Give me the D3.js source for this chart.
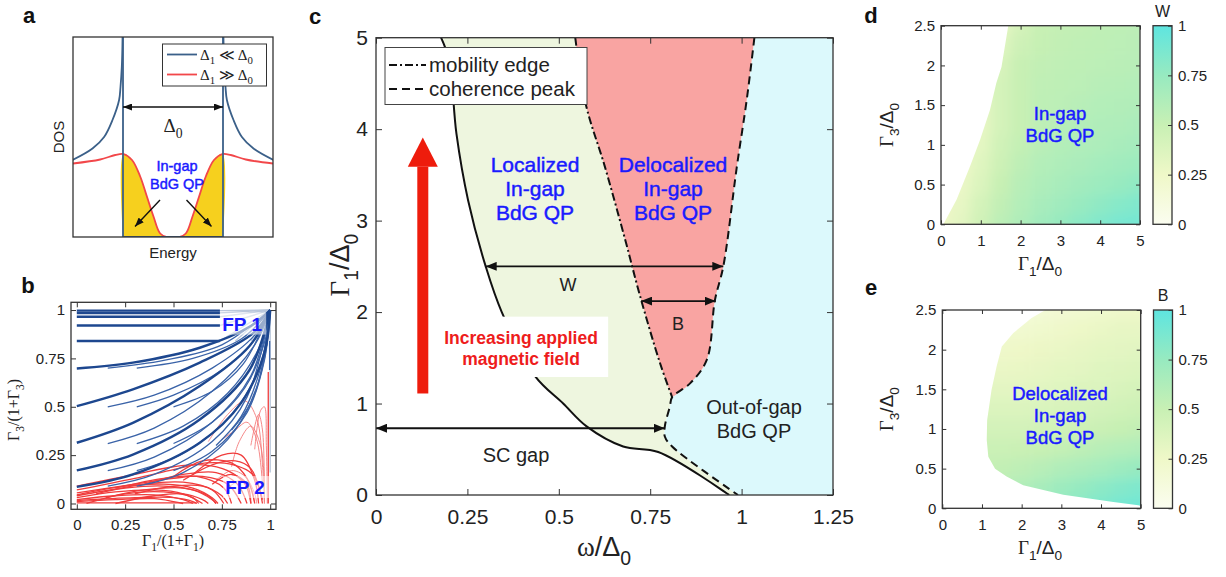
<!DOCTYPE html>
<html><head><meta charset="utf-8">
<script src="https://cdn.jsdelivr.net/npm/d3@7"></script>
<style>
body{margin:0;background:#fff}
text{font-family:"Liberation Sans",Arial,sans-serif;fill:#222}
</style>
</head><body>
<svg id="fig" width="1226" height="577"></svg>
<script>
// ---------- panel a : DOS sketch (energy, DOS) ----------
const dosBlueLeft = [[-2.01,1.54],[-1.61,1.77],[-1.378,2.0],[-1.21,2.34],[-1.078,2.74],[-1.05,3.0],[-1.024,3.4],[-1.012,3.8],[-1.004,4.4]];
const dosBlueGap = [[-1,4.4],[-1,0],[1,0],[1,4.4]];
const dosBlueRight = [[1.004,4.4],[1.012,3.8],[1.024,3.4],[1.05,3.0],[1.078,2.74],[1.21,2.34],[1.378,2.0],[1.61,1.77],[2.01,1.54]];
const dosRed = [[-2,1.47],[-1.456,1.55],[-1.156,1.64],[-0.99,1.66],[-0.82,1.54],[-0.656,1.21],[-0.522,0.81],[-0.39,0.41],[-0.256,0.07],[-0.12,0],
                [0.12,0],[0.256,0.07],[0.39,0.41],[0.522,0.81],[0.656,1.21],[0.82,1.54],[0.99,1.66],[1.156,1.64],[1.456,1.55],[2,1.47]];

// ---------- panel b : flow lines (Γ1/(1+Γ1), Γ3/(1+Γ3)) ----------
const flowTicks = [0, 0.25, 0.5, 0.75, 1];
const flowBlueMain = [
  [[0,0.997],[0.74,0.997]],
  [[0,0.985],[0.74,0.985]],
  [[0,0.965],[0.74,0.965]],
  [[0,0.92],[0.74,0.92]],
  [[0,0.84],[0.74,0.84]],
  [[0,0.698],[0.29,0.728],[0.636,0.805],[0.9,0.917],[1,1]],
  [[0,0.503],[0.29,0.59],[0.636,0.728],[0.915,0.883],[1,1]],
  [[0,0.314],[0.29,0.417],[0.636,0.607],[0.893,0.814],[1,1]],
  [[0,0.171],[0.29,0.253],[0.636,0.434],[0.893,0.69],[1,1]],
  [[0,0.086],[0.29,0.15],[0.636,0.314],[0.85,0.52],[0.97,0.78],[1,1]]
];
const flowBlueSide = [
  [[0.16,0.70],[0.45,0.74],[0.75,0.82],[1,1]],
  [[0.31,0.70],[0.6,0.75],[0.85,0.85],[1,1]],
  [[0.16,0.50],[0.4,0.56],[0.7,0.70],[0.92,0.87],[1,1]],
  [[0.31,0.50],[0.5,0.56],[0.75,0.69],[0.93,0.86],[1,1]],
  [[0.5,0.50],[0.7,0.58],[0.86,0.72],[1,1]],
  [[0.16,0.31],[0.4,0.39],[0.7,0.58],[0.92,0.82],[1,1]],
  [[0.31,0.31],[0.55,0.40],[0.78,0.57],[0.94,0.80],[1,1]],
  [[0.5,0.31],[0.7,0.42],[0.87,0.60],[0.97,0.83],[1,1]],
  [[0.16,0.17],[0.4,0.24],[0.7,0.42],[0.9,0.66],[1,1]],
  [[0.31,0.17],[0.55,0.26],[0.8,0.46],[0.95,0.72],[1,1]],
  [[0.5,0.17],[0.7,0.27],[0.88,0.47],[0.97,0.74],[1,1]],
  [[0.16,0.09],[0.4,0.15],[0.7,0.32],[0.88,0.55],[1,1]],
  [[0.31,0.09],[0.55,0.16],[0.78,0.33],[0.93,0.6],[1,1]],
  [[0.72,0.3],[0.85,0.45],[0.95,0.7],[1,1]],
  [[0.8,0.38],[0.9,0.52],[0.97,0.75],[1,1]],
  [[0.997,0.84],[0.997,0.69]]
];
const flowFan = [
  [[0.74,0.997],[1,1]],[[0.74,0.985],[1,1]],[[0.74,0.965],[1,1]],[[0.74,0.92],[1,1]],[[0.74,0.84],[1,1]],
  [[0.82,0.84],[1,1]],[[0.9,0.84],[1,1]],[[0.96,0.84],[1,1]],[[0.985,0.84],[0.985,1]],[[1,0.16],[1,1]]
];
const flowRedFaint = [
  [[0.68,0.32],[0.78,0.46],[0.87,0.53],[0.93,0.44],[0.96,0.2],[0.97,0]],
  [[0.75,0.33],[0.82,0.38],[0.88,0.42],[0.93,0.33],[0.96,0.1]],
  [[0.8,0.19],[0.84,0.32],[0.9,0.4],[0.95,0.3],[0.97,0.1]],
  [[0.92,0.28],[0.95,0.48],[0.97,0.5],[0.98,0.3],[0.985,0]],
  [[0.9,0.3],[0.94,0.46],[0.96,0.38],[0.97,0]],
  [[0.72,0.12],[0.8,0.17],[0.87,0.14],[0.92,0.05],[0.93,0]],
  [[0.78,0.08],[0.85,0.12],[0.9,0.08],[0.92,0]]
];
const flowRed = [
  [[0.55,0.12],[0.7,0.2],[0.82,0.22],[0.9,0.18],[0.95,0.05],[0.96,0]],
  [[0.5,0.14],[0.65,0.22],[0.8,0.21],[0.88,0.13],[0.92,0]],
  [[0,0.07],[0.3,0.13],[0.5,0.175],[0.67,0.21],[0.81,0.2],[0.91,0.15],[0.96,0.02]],
  [[0,0.09],[0.3,0.15],[0.5,0.19],[0.65,0.2],[0.78,0.17],[0.87,0.1],[0.9,0]],
  [[0,0.055],[0.3,0.1],[0.5,0.13],[0.65,0.14],[0.78,0.1],[0.85,0]],
  [[0,0.045],[0.25,0.09],[0.45,0.1],[0.6,0.08],[0.7,0.03],[0.73,0]],
  [[0,0.04],[0.25,0.08],[0.45,0.09],[0.6,0.07],[0.7,0.02],[0.72,0]],
  [[0,0.03],[0.2,0.06],[0.4,0.07],[0.55,0.05],[0.65,0]],
  [[0,0.02],[0.2,0.04],[0.4,0.045],[0.55,0.02],[0.6,0]],
  [[0,0.015],[0.3,0.03],[0.5,0.03],[0.6,0.01],[0.62,0]],
  [[0,0.01],[0.2,0.02],[0.4,0.025],[0.5,0.01],[0.55,0]],
  [[0,0.003],[0.62,0.003]],
  [[0.05,0],[0.25,0.05],[0.45,0.06],[0.6,0.03],[0.63,0]],
  [[0.2,0],[0.4,0.04],[0.55,0.05],[0.65,0.02],[0.68,0]],
  [[0.1,0.05],[0.35,0.1],[0.55,0.11],[0.7,0.07],[0.76,0]],
  [[0.2,0.08],[0.45,0.13],[0.62,0.14],[0.76,0.08],[0.8,0]],
  [[0.15,0.03],[0.35,0.07],[0.55,0.08],[0.68,0.04],[0.72,0]],
  [[0.3,0.05],[0.5,0.09],[0.65,0.09],[0.75,0.04],[0.78,0]],
  [[0.35,0.1],[0.55,0.15],[0.72,0.16],[0.83,0.1],[0.88,0]],
  [[0.6,0.15],[0.75,0.25],[0.85,0.25],[0.92,0.12],[0.94,0]],
  [[0.7,0.1],[0.8,0.15],[0.88,0.1],[0.9,0]],
  [[0.99,0.68],[0.99,0]]
];

// ---------- panel c : phase diagram (ω/Δ0, Γ1/Δ0) ----------
const omegaTicks = [0, 0.25, 0.5, 0.75, 1, 1.25];
const gammaTicks = [0, 1, 2, 3, 4, 5];
const gapEdge = [[0.178,5],[0.2,4.75],[0.22,3.95],[0.252,3.22],[0.30,2.5],[0.344,2.0],[0.435,1.3],[0.512,1.0],[0.576,0.75],[0.676,0.53],[0.772,0.47],[0.966,0]];
const mobilityEdge = [[0.545,5],[0.574,4.27],[0.626,3.59],[0.681,2.8],[0.722,2.18],[0.777,1.44],[0.81,1.07]];
const coherencePeak = [[1.035,5],[1.014,4.32],[0.987,3.59],[0.95,2.5],[0.927,2.13],[0.905,1.48],[0.859,1.22],[0.81,1.07],[0.804,0.97],[0.79,0.75],[0.79,0.64],[0.81,0.53],[0.99,0]];
const widthArrows = [
  {label:"W", g:2.5, w0:0.30, w1:0.95},
  {label:"B", g:2.12, w0:0.725, w1:0.929},
  {label:"SC gap", g:0.73, w0:0.0, w1:0.79}
];
const fieldArrow = {w:0.128, g0:1.11, g1:3.91};

// ---------- panels d, e : W and B maps (Γ1/Δ0 columns, Γ3/Δ0 rows) ----------
const g1Cols = [0,0.5,1,1.5,2,2.5,3,3.5,4,4.5,5];
const g3Rows = [2.5,2.25,2,1.75,1.5,1.25,1,0.75,0.5,0.25,0];
const mapW = [
  [0.28,0.28,0.28,0.30,0.42,0.50,0.52,0.53,0.54,0.55,0.56],
  [0.32,0.32,0.32,0.35,0.46,0.51,0.53,0.54,0.55,0.56,0.57],
  [0.36,0.36,0.36,0.40,0.50,0.53,0.54,0.55,0.56,0.57,0.58],
  [0.36,0.36,0.36,0.42,0.50,0.54,0.55,0.56,0.58,0.59,0.60],
  [0.30,0.30,0.30,0.42,0.50,0.55,0.56,0.58,0.60,0.61,0.62],
  [0.28,0.28,0.30,0.42,0.50,0.55,0.58,0.60,0.62,0.63,0.65],
  [0.25,0.25,0.32,0.45,0.52,0.57,0.60,0.62,0.64,0.66,0.68],
  [0.24,0.25,0.35,0.47,0.55,0.60,0.63,0.65,0.68,0.70,0.72],
  [0.22,0.28,0.38,0.50,0.58,0.63,0.66,0.69,0.72,0.75,0.78],
  [0.25,0.30,0.42,0.53,0.60,0.66,0.70,0.74,0.78,0.82,0.85],
  [0.25,0.33,0.45,0.56,0.63,0.70,0.75,0.80,0.84,0.88,0.90]
];
const mapB = [
  [0.15,0.15,0.15,0.15,0.15,0.16,0.18,0.20,0.22,0.24,0.25],
  [0.20,0.20,0.20,0.20,0.20,0.22,0.24,0.26,0.28,0.30,0.30],
  [0.24,0.24,0.24,0.24,0.25,0.27,0.28,0.30,0.32,0.33,0.34],
  [0.28,0.28,0.28,0.28,0.29,0.30,0.32,0.33,0.35,0.36,0.37],
  [0.33,0.33,0.33,0.33,0.33,0.34,0.35,0.37,0.38,0.40,0.42],
  [0.38,0.38,0.38,0.38,0.38,0.39,0.40,0.41,0.43,0.45,0.47],
  [0.43,0.43,0.43,0.43,0.43,0.44,0.45,0.47,0.49,0.51,0.53],
  [0.48,0.48,0.48,0.48,0.49,0.50,0.52,0.55,0.58,0.60,0.62],
  [0.52,0.52,0.52,0.53,0.55,0.58,0.62,0.65,0.68,0.72,0.75],
  [0.56,0.56,0.56,0.58,0.62,0.67,0.72,0.76,0.80,0.83,0.86],
  [0.60,0.60,0.60,0.62,0.66,0.72,0.78,0.82,0.86,0.90,0.92]
];
const regionW = [[0.06,0],[0.39,0.31],[0.73,0.73],[0.98,1.06],[1.23,1.44],[1.39,1.78],[1.52,1.98],[1.69,2.5],[5,2.5],[5,0]];
const regionB = [[2.25,2.40],[1.79,2.21],[1.50,2.04],[1.37,1.79],[1.24,1.49],[1.13,1.11],[1.12,0.86],[1.16,0.65],[1.33,0.50],[1.62,0.40],[2.04,0.29],[3.05,0.17],[4.31,0.08],[4.94,0.04],[5,0.03],[5,2.5],[2.6,2.5]];
const mapXTicks = [0,1,2,3,4,5];
const mapYTicks = [0,0.5,1,1.5,2,2.5];
const barTicks = [0,0.25,0.5,0.75,1];

const SERIF = "Liberation Serif, Times New Roman, serif";
const BLUE = "#1a1aff";
const svg = d3.select("#fig");
const defs = svg.append("defs");

function marker(id, w, h) {
  defs.append("marker").attr("id", id)
      .attr("viewBox", `0 0 ${w} ${h}`)
      .attr("refX", w).attr("refY", h / 2)
      .attr("markerWidth", w).attr("markerHeight", h)
      .attr("markerUnits", "userSpaceOnUse")
      .attr("orient", "auto-start-reverse")
    .append("path").attr("d", `M0,0L${w},${h / 2}L0,${h}Z`).attr("fill", "#111");
}
marker("arrC", 11, 9);
marker("arrA", 9, 7);

defs.append("filter").attr("id", "soft").attr("x", "-5%").attr("y", "-5%").attr("width", "110%").attr("height", "110%")
  .append("feGaussianBlur").attr("stdDeviation", 6);

// text with Γ/Δ symbols and subscripts: parts = [[text, {serif, sub}]]
function rich(t, parts, size) {
  let off = 0;
  parts.forEach(([s, o]) => {
    o = o || {};
    const want = o.sub ? size * 0.32 : 0;
    const ts = t.append("tspan").text(s).attr("dy", want - off);
    off = want;
    if (o.serif) ts.attr("font-family", SERIF);
    if (o.sub) ts.attr("font-size", size * 0.72);
  });
  return t;
}

function blueText(g, x, y, s, size) {
  return g.append("text").attr("x", x).attr("y", y).attr("text-anchor", "middle").attr("font-size", size)
    .style("fill", BLUE).attr("stroke", BLUE).attr("stroke-width", 0.45).text(s);
}

function boxAxes(g, x, y, o) {
  const tl = o.tick || 5;
  const fmt = d => String(d);
  const [x0, x1] = x.range(), [y0, y1] = y.range();
  const bx = g.append("g").attr("transform", `translate(0,${y0})`)
    .call(d3.axisBottom(x).tickValues(o.xt).tickSize(-tl).tickSizeOuter(0).tickPadding(o.xPad).tickFormat(fmt));
  const tx = g.append("g").attr("transform", `translate(0,${y1})`)
    .call(d3.axisTop(x).tickValues(o.xt).tickSize(-tl).tickSizeOuter(0).tickFormat(""));
  const ly = g.append("g").attr("transform", `translate(${x0},0)`)
    .call(d3.axisLeft(y).tickValues(o.yt).tickSize(-tl).tickSizeOuter(0).tickPadding(o.yPad).tickFormat(fmt));
  const ry = g.append("g").attr("transform", `translate(${x1},0)`)
    .call(d3.axisRight(y).tickValues(o.yt).tickSize(-tl).tickSizeOuter(0).tickFormat(""));
  [bx, tx, ly, ry].forEach(a => {
    a.select(".domain").remove();
    a.selectAll("line").attr("stroke", "#333");
    a.selectAll("text").attr("font-size", o.font).attr("fill", "#222")
      .attr("font-family", "Liberation Sans, Arial, sans-serif");
  });
  g.append("rect").attr("x", x0).attr("y", y1).attr("width", x1 - x0).attr("height", y0 - y1)
    .attr("fill", "none").attr("stroke", "#333").attr("stroke-width", 1.3);
}

function panelLetter(ch, x, y) {
  svg.append("text").attr("x", x).attr("y", y).attr("font-size", 22).attr("font-weight", "bold")
    .attr("text-anchor", "middle").style("fill", "#111").text(ch);
}

function clipRect(id, x, y) {
  const [x0, x1] = x.range(), [y0, y1] = y.range();
  defs.append("clipPath").attr("id", id).append("rect")
    .attr("x", x0).attr("y", y1).attr("width", x1 - x0).attr("height", y0 - y1);
}

// ================= panel a =================
{
  const x = d3.scaleLinear([-2, 2], [73, 273]);
  const y = d3.scaleLinear([0, 4], [237, 37]);
  const g = svg.append("g");
  clipRect("clipA", x, y);
  const pg = g.append("g").attr("clip-path", "url(#clipA)");
  const line = d3.line().x(d => x(d[0])).y(d => y(d[1])).curve(d3.curveCatmullRom);
  const inGap = dosRed.filter(d => Math.abs(d[0]) <= 1);
  pg.append("path").datum([[-1, 0], ...inGap, [1, 0]])
    .attr("d", d3.area().x(d => x(d[0])).y0(y(0)).y1(d => y(d[1])).curve(d3.curveCatmullRom))
    .attr("fill", "#f6d01e");
  pg.append("path").datum(dosRed).attr("d", line).attr("fill", "none").attr("stroke", "#f2474a").attr("stroke-width", 1.8);
  [dosBlueLeft, dosBlueRight].forEach(c => pg.append("path").datum(c).attr("d", line)
    .attr("fill", "none").attr("stroke", "#3b6089").attr("stroke-width", 1.8));
  pg.append("path").datum(dosBlueGap).attr("d", d3.line().x(d => x(d[0])).y(d => y(d[1])))
    .attr("fill", "none").attr("stroke", "#3b6089").attr("stroke-width", 1.8);

  // gap arrow
  g.append("line").attr("x1", x(-1)).attr("x2", x(1)).attr("y1", y(2.6)).attr("y2", y(2.6))
    .attr("stroke", "#111").attr("stroke-width", 1.6)
    .attr("marker-start", "url(#arrA)").attr("marker-end", "url(#arrA)");
  rich(g.append("text").attr("x", x(0)).attr("y", 132).attr("text-anchor", "middle").attr("font-size", 19),
    [["Δ", {serif: true}], ["0", {serif: true, sub: true}]], 19);

  blueText(g, 177, 171, "In-gap", 14.5);
  blueText(g, 177, 189, "BdG QP", 14.5);
  [[[-0.26, 0.74], [-0.76, 0.21]], [[0.27, 0.74], [0.77, 0.21]]].forEach(p =>
    g.append("line").attr("x1", x(p[0][0])).attr("y1", y(p[0][1])).attr("x2", x(p[1][0])).attr("y2", y(p[1][1]))
      .attr("stroke", "#111").attr("stroke-width", 1.4).attr("marker-end", "url(#arrA)"));

  // legend
  g.append("rect").attr("x", 162.5).attr("y", 44).attr("width", 104).attr("height", 42)
    .attr("fill", "#fff").attr("stroke", "#333").attr("stroke-width", 1);
  [["#3b6089", 54.5], ["#f2474a", 74.5]].forEach(([c, yy], i) => {
    g.append("line").attr("x1", 167).attr("x2", 197).attr("y1", yy).attr("y2", yy).attr("stroke", c).attr("stroke-width", 1.8);
    const t = g.append("text").attr("x", 200).attr("y", yy + 5).attr("font-size", 15).attr("font-family", SERIF);
    const rel = i === 0 ? " ≪ " : " ≫ ";
    rich(t, [["Δ", {serif: true}], ["1", {serif: true, sub: true}], [rel, {serif: true}], ["Δ", {serif: true}], ["0", {serif: true, sub: true}]], 15);
  });

  g.append("rect").attr("x", 73).attr("y", 37).attr("width", 200).attr("height", 200)
    .attr("fill", "none").attr("stroke", "#333").attr("stroke-width", 1.3);
  g.append("text").attr("x", 173).attr("y", 258).attr("text-anchor", "middle").attr("font-size", 15).text("Energy");
  g.append("text").attr("transform", "translate(64,137) rotate(-90)").attr("text-anchor", "middle").attr("font-size", 15).text("DOS");
  panelLetter("a", 29, 23);
}

// ================= panel b =================
{
  const x = d3.scaleLinear([-0.03, 1.03], [71, 276]);
  const y = d3.scaleLinear([-0.03, 1.04], [509.3, 302.3]);
  const g = svg.append("g");
  clipRect("clipB", x, y);
  const pg = g.append("g").attr("clip-path", "url(#clipB)");
  const line = d3.line().x(d => x(d[0])).y(d => y(d[1])).curve(d3.curveCatmullRom);
  pg.selectAll(".redf").data(flowRedFaint).join("path").attr("d", line)
    .attr("fill", "none").attr("stroke", "#f47a7a").attr("stroke-width", 0.9);
  pg.selectAll(".red").data(flowRed).join("path").attr("d", line)
    .attr("fill", "none").attr("stroke", "#f03c3c").attr("stroke-width", 1.3);
  pg.selectAll(".fan").data(flowFan).join("path").attr("d", line)
    .attr("fill", "none").attr("stroke", "#b9c7db").attr("stroke-width", 1.4);
  pg.selectAll(".side").data(flowBlueSide).join("path").attr("d", line)
    .attr("fill", "none").attr("stroke", "#3a63a8").attr("stroke-width", 1.3);
  pg.selectAll(".main").data(flowBlueMain).join("path").attr("d", line)
    .attr("fill", "none").attr("stroke", "#1d478f").attr("stroke-width", 2.4);

  boxAxes(g, x, y, {xt: flowTicks, yt: flowTicks, font: 15, xPad: 10, yPad: 6});

  [["FP 1", 0.855, 0.93], ["FP 2", 0.87, 0.085]].forEach(([s, cx, cy]) => {
    g.append("rect").attr("x", x(cx) - 22).attr("y", y(cy) - 11).attr("width", 46).attr("height", 22)
      .attr("fill", "#fff").attr("opacity", 0.55);
    g.append("text").attr("x", x(cx)).attr("y", y(cy) + 7).attr("text-anchor", "middle")
      .attr("font-size", 19).attr("font-weight", "bold").style("fill", BLUE).text(s);
  });

  rich(g.append("text").attr("x", 173).attr("y", 546).attr("text-anchor", "middle").attr("font-size", 16).attr("font-family", SERIF),
    [["Γ", {serif: true}], ["1", {serif: true, sub: true}], ["/(1+Γ", {serif: true}], ["1", {serif: true, sub: true}], [")", {serif: true}]], 16);
  rich(g.append("text").attr("transform", "translate(19,410) rotate(-90)").attr("text-anchor", "middle").attr("font-size", 16).attr("font-family", SERIF),
    [["Γ", {serif: true}], ["3", {serif: true, sub: true}], ["/(1+Γ", {serif: true}], ["3", {serif: true, sub: true}], [")", {serif: true}]], 16);
  panelLetter("b", 28, 293);
}

// ================= panel c =================
{
  const x = d3.scaleLinear([0, 1.25], [376, 833]);
  const y = d3.scaleLinear([0, 5], [495, 37.7]);
  const g = svg.append("g");
  clipRect("clipC", x, y);
  const pg = g.append("g").attr("clip-path", "url(#clipC)");
  const curve = d3.line().x(d => x(d[0])).y(d => y(d[1])).curve(d3.curveCatmullRom);
  const lin = d3.line().x(d => x(d[0])).y(d => y(d[1]));
  // closed region from a chain of [points, smooth] pieces
  const region = (...pieces) => pieces.map(([p, s], i) => {
    const d = (s ? curve : lin)(p);
    return i ? d.replace(/^M/, "L") : d;
  }).join("") + "Z";
  const rev = a => a.slice().reverse();
  const tip = coherencePeak.findIndex(d => d[1] === 1.07);

  pg.append("path").attr("d", region([coherencePeak, true], [[[1.3, 0], [1.3, 5.1], [1.04, 5.1]], false])).attr("fill", "#dcf9fc");
  pg.append("path").attr("d", region([[[0.17, 5.1]], false], [gapEdge, true], [rev(coherencePeak), true], [[[1.04, 5.1]], false])).attr("fill", "#eef6df");
  pg.append("path").attr("d", region([[[0.54, 5.1]], false], [mobilityEdge, true], [rev(coherencePeak.slice(0, tip + 1)), true], [[[1.04, 5.1]], false])).attr("fill", "#f9a4a2");

  pg.append("path").datum(gapEdge).attr("d", curve).attr("fill", "none").attr("stroke", "#111").attr("stroke-width", 2);
  pg.append("path").datum(mobilityEdge).attr("d", curve).attr("fill", "none").attr("stroke", "#111")
    .attr("stroke-width", 2).attr("stroke-dasharray", "8,3,2,3");
  pg.append("path").datum(coherencePeak).attr("d", curve).attr("fill", "none").attr("stroke", "#111")
    .attr("stroke-width", 2).attr("stroke-dasharray", "8,5");

  // white box + field arrow
  g.append("rect").attr("x", x(0.167)).attr("y", y(1.95)).attr("width", x(0.635) - x(0.167)).attr("height", y(1.29) - y(1.95)).attr("fill", "#fff");
  const ft = g.append("g").attr("font-size", 17.5).attr("font-weight", "bold").attr("text-anchor", "middle");
  ft.append("text").attr("x", 521).attr("y", 344).style("fill", "#ee1c1c").text("Increasing applied");
  ft.append("text").attr("x", 521).attr("y", 365).style("fill", "#ee1c1c").text("magnetic field");
  g.append("rect").attr("x", x(fieldArrow.w) - 5.5).attr("y", y(3.59)).attr("width", 11).attr("height", y(fieldArrow.g0) - y(3.59)).attr("fill", "#ee1c0c");
  g.append("path").attr("d", `M${x(fieldArrow.w) - 15},${y(3.59)}L${x(fieldArrow.w)},${y(fieldArrow.g1)}L${x(fieldArrow.w) + 15},${y(3.59)}Z`).attr("fill", "#ee1c0c");

  widthArrows.forEach(a => {
    g.append("line").attr("x1", x(a.w0)).attr("x2", x(a.w1)).attr("y1", y(a.g)).attr("y2", y(a.g))
      .attr("stroke", "#111").attr("stroke-width", 1.8)
      .attr("marker-start", "url(#arrC)").attr("marker-end", "url(#arrC)");
  });
  const lab = g.append("g").attr("text-anchor", "middle");
  lab.append("text").attr("x", 568).attr("y", 291).attr("font-size", 18).text("W");
  lab.append("text").attr("x", 678).attr("y", 330).attr("font-size", 18).text("B");
  lab.append("text").attr("x", 516).attr("y", 462).attr("font-size", 20).text("SC gap");
  lab.append("text").attr("x", 754).attr("y", 414).attr("font-size", 20).text("Out-of-gap");
  lab.append("text").attr("x", 754).attr("y", 438).attr("font-size", 20).text("BdG QP");

  [[535, ["Localized", "In-gap", "BdG QP"]], [673, ["Delocalized", "In-gap", "BdG QP"]]].forEach(([cx, ls]) =>
    ls.forEach((s, i) => blueText(g, cx, 172 + i * 24, s, 21)));

  boxAxes(g, x, y, {xt: omegaTicks, yt: gammaTicks, font: 21, xPad: 14, yPad: 8, tick: 6});

  // legend
  g.append("rect").attr("x", 385).attr("y", 47.5).attr("width", 202).attr("height", 57)
    .attr("fill", "#fff").attr("stroke", "#444").attr("stroke-width", 1);
  [["mobility edge", "8,3,2,3", 65], ["coherence peak", "8,5", 89]].forEach(([s, da, yy]) => {
    g.append("line").attr("x1", 389).attr("x2", 426).attr("y1", yy).attr("y2", yy)
      .attr("stroke", "#111").attr("stroke-width", 2).attr("stroke-dasharray", da);
    g.append("text").attr("x", 429).attr("y", yy + 7).attr("font-size", 20.5).text(s);
  });

  rich(g.append("text").attr("x", 604).attr("y", 556).attr("text-anchor", "middle").attr("font-size", 27),
    [["ω", {serif: true}], ["/Δ"], ["0", {sub: true}]], 27);
  rich(g.append("text").attr("transform", "translate(349,265) rotate(-90)").attr("text-anchor", "middle").attr("font-size", 27),
    [["Γ", {serif: true}], ["1", {sub: true}], ["/Δ"], ["0", {sub: true}]], 27);
  panelLetter("c", 315, 24);
}

// ================= panels d, e =================
const cmap = d3.scaleLinear().domain([0, 0.25, 0.5, 0.75, 1])
  .range(["#fbfdf0", "#eff8c8", "#c8f0b4", "#97eac0", "#5ee5e0"]);
const grad = defs.append("linearGradient").attr("id", "cbar").attr("x1", 0).attr("x2", 0).attr("y1", 1).attr("y2", 0);
cmap.domain().forEach(v => grad.append("stop").attr("offset", v).attr("stop-color", cmap(v)));

function mapPanel(id, grid, region, xr, yr, cbx, name, textLines, textY, letterY) {
  const x = d3.scaleLinear([0, 5], xr);
  const y = d3.scaleLinear([0, 2.5], yr);
  const g = svg.append("g");
  defs.append("clipPath").attr("id", id).append("path")
    .attr("d", "M" + region.map(d => [x(d[0]), y(d[1])].join(",")).join("L") + "Z");
  const cells = [];
  grid.forEach((row, r) => row.forEach((v, c) => cells.push({g1: g1Cols[c], g3: g3Rows[r], v})));
  const cw = x(0.5) - x(0), ch = y(0) - y(0.25);
  g.append("g").attr("clip-path", `url(#${id})`)
    .append("g").attr("filter", "url(#soft)")
    .selectAll("rect").data(cells).join("rect")
    .attr("x", d => x(d.g1) - cw / 2 - 0.3).attr("y", d => y(d.g3) - ch / 2 - 0.3)
    .attr("width", cw + 0.6).attr("height", ch + 0.6).attr("fill", d => cmap(d.v));

  boxAxes(g, x, y, {xt: mapXTicks, yt: mapYTicks, font: 15, xPad: 11, yPad: 6, tick: 4});

  textLines.forEach((s, i) => blueText(g, 1060, textY + i * 22, s, 18.5));

  // colorbar
  const cy = d3.scaleLinear([0, 1], yr);
  g.append("rect").attr("x", cbx).attr("y", yr[1]).attr("width", 19).attr("height", yr[0] - yr[1])
    .attr("fill", "url(#cbar)").attr("stroke", "#333").attr("stroke-width", 1.3);
  const ax = g.append("g").attr("transform", `translate(${cbx + 19},0)`)
    .call(d3.axisRight(cy).tickValues(barTicks).tickSize(-4).tickSizeOuter(0).tickPadding(6).tickFormat(d => String(d)));
  ax.select(".domain").remove();
  ax.selectAll("line").attr("stroke", "#333");
  ax.selectAll("text").attr("font-size", 15).attr("fill", "#222");
  g.append("text").attr("x", cbx + 9.5).attr("y", yr[1] - 9).attr("text-anchor", "middle").attr("font-size", 16).text(name);

  rich(g.append("text").attr("x", 1040).attr("y", yr[0] + 46).attr("text-anchor", "middle").attr("font-size", 19),
    [["Γ", {serif: true}], ["1", {sub: true}], ["/Δ"], ["0", {sub: true}]], 19);
  rich(g.append("text").attr("transform", `translate(893,${(yr[0] + yr[1]) / 2}) rotate(-90)`).attr("text-anchor", "middle").attr("font-size", 19),
    [["Γ", {serif: true}], ["3", {sub: true}], ["/Δ"], ["0", {sub: true}]], 19);
  panelLetter(id === "clipD" ? "d" : "e", 871, letterY);
}
mapPanel("clipD", mapW, regionW, [941, 1140], [224.3, 25.7], 1153, "W", ["In-gap", "BdG QP"], 120, 23);
mapPanel("clipE", mapB, regionB, [942.3, 1140.7], [508.3, 310], 1153.5, "B", ["Delocalized", "In-gap", "BdG QP"], 400, 295);
</script>
</body></html>
